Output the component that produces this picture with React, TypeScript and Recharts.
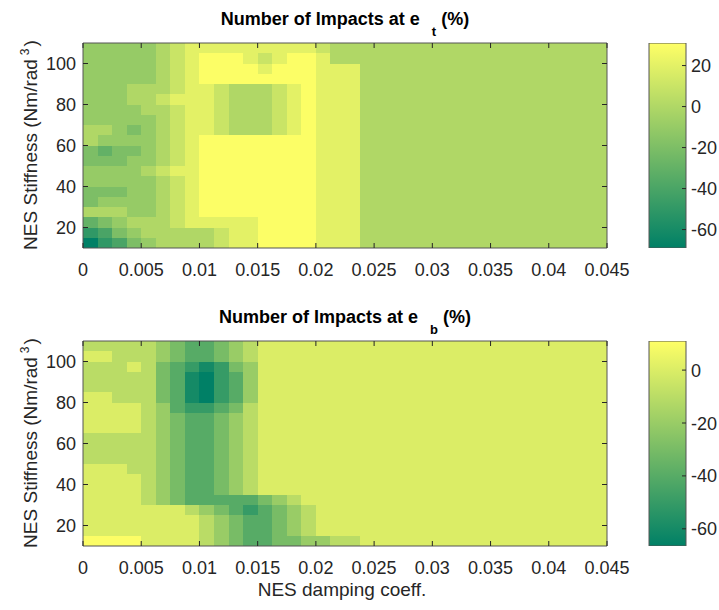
import React from 'react';
import { ComposedChart, Scatter, XAxis, YAxis, ReferenceArea, BarChart, Bar } from 'recharts';

const FONT = '"Liberation Sans", Arial, Helvetica, sans-serif';
const INK = '#262626';
const BOX = '#555555';

// cell edges of the sampled contour grid
const xEdges = [0, 0.00125, 0.0025, 0.00375, 0.005, 0.00625, 0.0075, 0.00875, 0.01, 0.01125, 0.0125,
  0.01375, 0.015, 0.01625, 0.0175, 0.01875, 0.02, 0.02125, 0.0225, 0.02375, 0.025, 0.045];
const yEdges = [10, 15, 20, 25, 30, 35, 40, 45, 50, 55, 60, 65, 70, 75, 80, 85, 90, 95, 100, 105, 110];

const xTicks = [0, 0.005, 0.01, 0.015, 0.02, 0.025, 0.03, 0.035, 0.04, 0.045];
const yTicks = [20, 40, 60, 80, 100];

const topCLim = [-69, 31];
const bottomCLim = [-66.5, 11];
const topBarTicks = [-60, -40, -20, 0, 20];
const bottomBarTicks = [-60, -40, -20, 0];

// impacts at e_t (%), rows from stiffness 10 upward, columns follow xEdges
const topZ = [
  [-65, -45, -35, -15, -5, 5, 5, 5, 5, 15, 25, 25, 35, 35, 35, 35, 25, 25, 25, 5, 5],
  [-45, -35, -15, -5, 5, 5, 5, 5, 5, 15, 25, 25, 35, 35, 35, 35, 25, 25, 25, 5, 5],
  [-25, -15, -5, 5, 5, 5, 15, 25, 25, 25, 25, 25, 35, 35, 35, 35, 25, 25, 25, 5, 5],
  [5, 5, 5, -5, -5, 5, 15, 25, 35, 35, 35, 35, 35, 35, 35, 35, 25, 25, 25, 5, 5],
  [-15, -5, -5, -5, -5, 5, 15, 25, 35, 35, 35, 35, 35, 35, 35, 35, 25, 25, 25, 5, 5],
  [-15, -15, -15, -5, -5, 5, 15, 25, 35, 35, 35, 35, 35, 35, 35, 35, 25, 25, 25, 5, 5],
  [-5, -5, -5, -5, -5, 5, 15, 25, 35, 35, 35, 35, 35, 35, 35, 35, 25, 25, 25, 5, 5],
  [-5, -5, -5, -5, 5, 15, 25, 25, 35, 35, 35, 35, 35, 35, 35, 35, 25, 25, 25, 5, 5],
  [-15, -15, -15, -5, -5, 5, 15, 25, 35, 35, 35, 35, 35, 35, 35, 35, 25, 25, 25, 5, 5],
  [-15, -25, -15, -15, -5, 5, 15, 25, 35, 35, 35, 35, 35, 35, 35, 35, 25, 25, 25, 5, 5],
  [5, -5, -5, -5, -5, 5, 15, 25, 35, 35, 35, 35, 35, 35, 35, 35, 25, 25, 25, 5, 5],
  [5, 5, -5, -15, -5, 5, 15, 25, 25, 15, 5, 5, 5, 15, 25, 35, 25, 25, 25, 5, 5],
  [-5, -5, -5, -5, -5, 5, 15, 25, 25, 15, 5, 5, 5, 15, 25, 35, 25, 25, 25, 5, 5],
  [-5, -5, -5, -5, 5, 5, 15, 25, 25, 15, 5, 5, 5, 15, 25, 35, 25, 25, 25, 5, 5],
  [-5, -5, -5, 5, 5, 15, 25, 25, 25, 15, 5, 5, 5, 15, 25, 35, 25, 25, 25, 5, 5],
  [-5, -5, -5, 5, 5, 5, 15, 25, 25, 15, 5, 5, 5, 15, 25, 35, 25, 25, 25, 5, 5],
  [-5, -5, -5, -5, -5, 5, 15, 25, 35, 35, 35, 35, 35, 35, 35, 35, 25, 25, 25, 5, 5],
  [-5, -5, -5, -5, -5, 5, 15, 25, 35, 35, 35, 35, 25, 35, 35, 35, 25, 25, 25, 5, 5],
  [-5, -5, -5, -5, -5, 5, 15, 25, 35, 35, 35, 25, 15, 25, 35, 35, 25, 5, 5, 5, 5],
  [-5, -5, -5, -5, -5, 5, 15, 25, 25, 25, 25, 25, 25, 25, 25, 25, 15, 5, 5, 5, 5],
];

// impacts at e_b (%)
const bottomZ = [
  [15, 15, 15, 15, 5, 5, 5, 5, -5, -15, -25, -35, -35, -25, -25, -15, -15, -5, -5, 5, 5],
  [5, 5, 5, 5, 5, 5, 5, 5, -5, -15, -25, -35, -35, -25, -15, -5, 5, 5, 5, 5, 5],
  [5, 5, 5, 5, 5, 5, 5, 5, -5, -15, -25, -35, -35, -25, -15, -5, 5, 5, 5, 5, 5],
  [5, 5, 5, 5, 5, 5, 5, -5, -15, -25, -35, -45, -35, -25, -15, -5, 5, 5, 5, 5, 5],
  [5, 5, 5, 5, -5, -15, -25, -35, -35, -35, -35, -35, -25, -15, -5, 5, 5, 5, 5, 5, 5],
  [5, 5, 5, 5, -5, -15, -25, -35, -35, -25, -15, -5, 5, 5, 5, 5, 5, 5, 5, 5, 5],
  [5, 5, 5, 5, -5, -15, -25, -35, -35, -25, -15, -5, 5, 5, 5, 5, 5, 5, 5, 5, 5],
  [5, 5, 5, -5, -5, -15, -25, -35, -35, -25, -15, -5, 5, 5, 5, 5, 5, 5, 5, 5, 5],
  [-5, -5, -5, -5, -5, -15, -25, -35, -35, -25, -15, -5, 5, 5, 5, 5, 5, 5, 5, 5, 5],
  [-5, -5, -5, -5, -5, -15, -25, -35, -35, -25, -15, -5, 5, 5, 5, 5, 5, 5, 5, 5, 5],
  [-5, -5, -5, -5, -5, -15, -25, -35, -35, -25, -15, -5, 5, 5, 5, 5, 5, 5, 5, 5, 5],
  [5, 5, 5, 5, -5, -15, -25, -35, -35, -25, -15, -5, 5, 5, 5, 5, 5, 5, 5, 5, 5],
  [5, 5, 5, 5, -5, -15, -25, -35, -35, -25, -15, -5, 5, 5, 5, 5, 5, 5, 5, 5, 5],
  [5, 5, 5, 5, -5, -15, -35, -45, -45, -35, -25, -5, 5, 5, 5, 5, 5, 5, 5, 5, 5],
  [5, 5, -5, -5, -5, -25, -35, -55, -65, -45, -35, -15, 5, 5, 5, 5, 5, 5, 5, 5, 5],
  [-5, -5, -5, -5, -5, -25, -35, -55, -65, -45, -35, -15, 5, 5, 5, 5, 5, 5, 5, 5, 5],
  [-5, -5, -5, -5, -5, -25, -35, -55, -65, -45, -35, -15, 5, 5, 5, 5, 5, 5, 5, 5, 5],
  [-5, -5, -5, 5, -5, -25, -35, -45, -55, -45, -25, -15, 5, 5, 5, 5, 5, 5, 5, 5, 5],
  [5, 5, -5, -5, -5, -15, -25, -35, -35, -25, -15, -5, 5, 5, 5, 5, 5, 5, 5, 5, 5],
  [-5, -5, -5, -5, -5, -15, -25, -35, -35, -25, -15, -5, 5, 5, 5, 5, 5, 5, 5, 5, 5],
];

// MATLAB "summer" colormap
function summer(t: number) {
  const c = Math.min(1, Math.max(0, t));
  return `rgb(${Math.round(255 * c)},${Math.round(127.5 + 127.5 * c)},102)`;
}

const band = (v: number) => Math.floor(v / 10) * 10;

// merge runs of equal contour band along each row
function buildCells(z: number[][], clim: number[]) {
  const cells: { x1: number; x2: number; y1: number; y2: number; fill: string }[] = [];
  z.forEach((row, i) => {
    let start = 0;
    for (let j = 1; j <= row.length; j++) {
      const b = band(row[start]);
      if (j === row.length || band(row[j]) !== b) {
        cells.push({
          x1: xEdges[start], x2: xEdges[j], y1: yEdges[i], y2: yEdges[i + 1],
          fill: summer((b - clim[0]) / (clim[1] - clim[0])),
        });
        start = j;
      }
    }
  });
  return cells;
}

const W = 640, H = 290, PL = 83, PR = 607, PT = 43, PB = 248;

const fmtX = (v: number) => String(+v.toFixed(3));

const XTick = (p: any) => (
  <g>
    <line x1={p.x} x2={p.x} y1={PB} y2={PB - 5} stroke={INK} />
    <line x1={p.x} x2={p.x} y1={PT} y2={PT + 5} stroke={INK} />
    <text x={p.x} y={PB + 28} textAnchor="middle" fontSize={18} fill={INK} fontFamily={FONT}>
      {fmtX(p.payload.value)}
    </text>
  </g>
);

const YTick = (p: any) => (
  <g>
    <line x1={PL} x2={PL + 5} y1={p.y} y2={p.y} stroke={INK} />
    <line x1={PR} x2={PR - 5} y1={p.y} y2={p.y} stroke={INK} />
    <text x={PL - 7} y={p.y + 6.5} textAnchor="end" fontSize={18} fill={INK} fontFamily={FONT}>
      {p.payload.value}
    </text>
  </g>
);

const renderCell = (p: any) => (
  <rect x={p.x} y={p.y} width={p.width} height={p.height} fill={p.fill} shapeRendering="crispEdges" />
);

function ContourPanel({ z, clim }: { z: number[][]; clim: number[] }) {
  const cells = buildCells(z, clim);
  const centers = cells.map((c) => ({ x: (c.x1 + c.x2) / 2, y: (c.y1 + c.y2) / 2 }));
  return (
    <ComposedChart width={W} height={H} margin={{ top: PT, right: W - PR, bottom: H - PB - 40, left: PL - 60 }}>
      <XAxis type="number" dataKey="x" domain={[0, 0.045]} ticks={xTicks} interval={0} height={40}
        axisLine={false} tickLine={false} tick={XTick} allowDataOverflow />
      <YAxis type="number" dataKey="y" domain={[10, 110]} ticks={yTicks} interval={0} width={60}
        axisLine={false} tickLine={false} tick={YTick} allowDataOverflow />
      {cells.map((c, i) => (
        <ReferenceArea key={i} x1={c.x1} x2={c.x2} y1={c.y1} y2={c.y2} fill={c.fill} fillOpacity={1}
          stroke="none" ifOverflow="visible" shape={renderCell} />
      ))}
      <Scatter data={centers} shape={() => <g />} isAnimationActive={false} />
      <ReferenceArea x1={0} x2={0.045} y1={10} y2={110} fill="none" stroke={BOX} ifOverflow="visible" />
    </ComposedChart>
  );
}

function ColorBar({ clim, ticks, id }: { clim: number[]; ticks: number[]; id: string }) {
  const data = [{ name: 'cb', range: [clim[0], clim[1]] }];
  const right = 46;
  const CBTick = (p: any) => (
    <g>
      <line x1={right} x2={right - 4} y1={p.y} y2={p.y} stroke={INK} />
      <text x={right + 5} y={p.y + 6.5} textAnchor="start" fontSize={18} fill={INK} fontFamily={FONT}>
        {p.payload.value}
      </text>
    </g>
  );
  return (
    <BarChart width={79} height={H} data={data} margin={{ top: PT, right: 0, bottom: H - PB, left: 9 }}
      barCategoryGap={0}>
      <defs>
        <linearGradient id={id} x1="0" y1="1" x2="0" y2="0">
          <stop offset="0" stopColor={summer(0)} />
          <stop offset="1" stopColor={summer(1)} />
        </linearGradient>
      </defs>
      <XAxis dataKey="name" hide />
      <YAxis orientation="right" type="number" domain={clim} ticks={ticks} interval={0} width={33}
        axisLine={false} tickLine={false} tick={CBTick} allowDataOverflow />
      <Bar dataKey="range" fill={`url(#${id})`} stroke={BOX} isAnimationActive={false} />
    </BarChart>
  );
}

function Title({ y, sub }: { y: number; sub: string }) {
  return (
    <text x={345} y={y} textAnchor="middle" fontSize={18} fontWeight="bold" fill="#000" fontFamily={FONT}>
      Number of Impacts at e
      <tspan dx={12} dy={11} fontSize={13}>{sub}</tspan>
      <tspan dx={5} dy={-11}>(%)</tspan>
    </text>
  );
}

function YLabel({ cy }: { cy: number }) {
  return (
    <text x={37} y={cy} transform={`rotate(-90 37 ${cy})`} textAnchor="middle" fontSize={19} fill={INK}
      fontFamily={FONT}>
      NES Stiffness (Nm/rad
      <tspan dx={4} dy={-8} fontSize={12}>3</tspan>
      <tspan dx={2} dy={8}>)</tspan>
    </text>
  );
}

export default function App() {
  return (
    <div style={{ position: 'fixed', left: 0, top: 0, width: 719, height: 610, background: '#fff' }}>
      <div style={{ position: 'absolute', left: 0, top: 0 }}>
        <ContourPanel z={topZ} clim={topCLim} />
      </div>
      <div style={{ position: 'absolute', left: 640, top: 0 }}>
        <ColorBar clim={topCLim} ticks={topBarTicks} id="cbTop" />
      </div>
      <div style={{ position: 'absolute', left: 0, top: 298 }}>
        <ContourPanel z={bottomZ} clim={bottomCLim} />
      </div>
      <div style={{ position: 'absolute', left: 640, top: 298 }}>
        <ColorBar clim={bottomCLim} ticks={bottomBarTicks} id="cbBottom" />
      </div>
      <svg width={719} height={610} style={{ position: 'absolute', left: 0, top: 0, pointerEvents: 'none' }}>
        <Title y={25} sub="t" />
        <Title y={323} sub="b" />
        <YLabel cy={145} />
        <YLabel cy={443} />
        <text x={342} y={596} textAnchor="middle" fontSize={19} fill={INK} fontFamily={FONT}>
          NES damping coeff.
        </text>
      </svg>
    </div>
  );
}
